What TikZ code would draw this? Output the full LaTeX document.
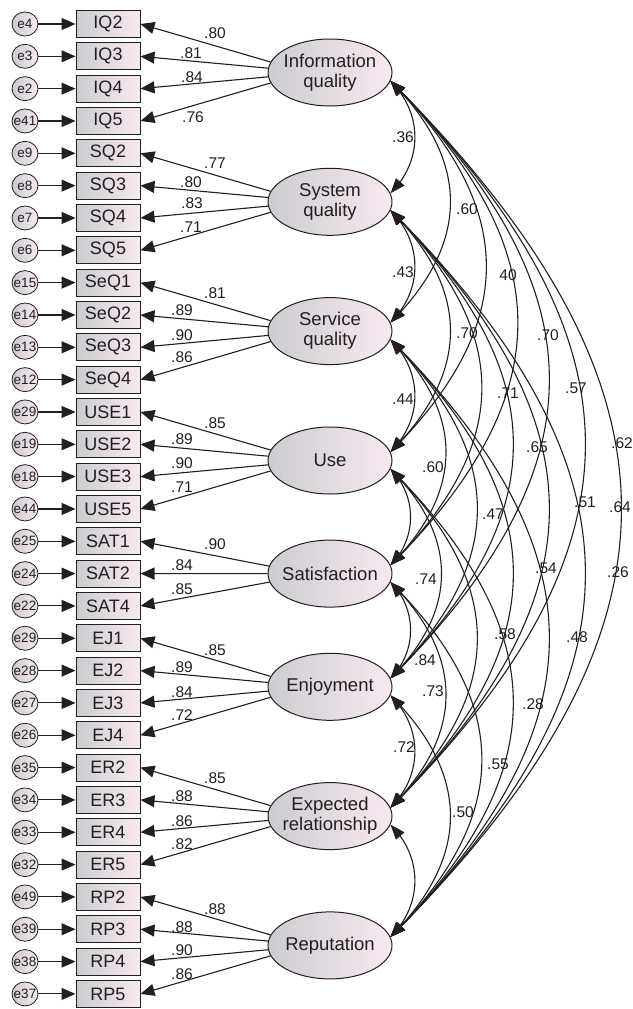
\documentclass[tikz,border=0pt]{standalone}
\usepackage{fontspec}
\setmainfont{Liberation Sans}
\usetikzlibrary{arrows.meta,bending,shapes.geometric}
\definecolor{shL}{RGB}{204,204,208}
\definecolor{shR}{RGB}{249,233,241}
\definecolor{ink}{RGB}{35,31,32}
\begin{document}
\begin{tikzpicture}[x=1pt,y=-1pt,
  errc/.style={ellipse, draw=ink, line width=0.8pt, left color=shL, right color=shR, minimum width=26pt, minimum height=24pt, inner sep=0pt},
  elab/.style={font=\fontsize{13.5}{14}\selectfont, text=ink, inner sep=0pt},
  ind/.style={rectangle, draw=ink, line width=1pt, left color=shL, right color=shR, minimum width=64pt, minimum height=27pt, inner sep=0pt, text=ink, font=\fontsize{18}{20}\selectfont},
  lat/.style={ellipse, draw=ink, line width=1pt, left color=shL, right color=shR, minimum width=124pt, minimum height=67pt, inner sep=0pt},
  latlab/.style={align=center, text=ink, inner sep=0pt, font=\fontsize{18.5}{20}\selectfont},
  loadarrow/.style={draw=ink, line width=1.1pt, -{Triangle[length=14pt,width=12pt]}},
  cov/.style={draw=ink, line width=1.1pt, {Triangle[length=15pt,width=11pt]}-{Triangle[length=15pt,width=11pt]}},
  est/.style={font=\fontsize{15.5}{16}\selectfont, text=ink, inner sep=0pt}
]
\fill[white] (0,0) rectangle (632,1009);
\useasboundingbox (0,0) rectangle (632,1009);

% indicators and errors
\foreach \k/\el/\bl in {0/e4/IQ2,1/e3/IQ3,2/e2/IQ4,3/e41/IQ5,
  4/e9/SQ2,5/e8/SQ3,6/e7/SQ4,7/e6/SQ5,
  8/e15/SeQ1,9/e14/SeQ2,10/e13/SeQ3,11/e12/SeQ4,
  12/e29/USE1,13/e19/USE2,14/e18/USE3,15/e44/USE5,
  16/e25/SAT1,17/e24/SAT2,18/e22/SAT4,
  19/e29/EJ1,20/e28/EJ2,21/e27/EJ3,22/e26/EJ4,
  23/e35/ER2,24/e34/ER3,25/e33/ER4,26/e32/ER5,
  27/e49/RP2,28/e39/RP3,29/e38/RP4,30/e37/RP5}{
  \pgfmathsetmacro\yy{24+32.33*\k}
  \node[errc] (e\k) at (25,\yy) {};
  \node[elab] (et\k) at (e\k) {\el};
  \node[ind] (b\k) at (108,\yy) {\bl};
  \draw[loadarrow] (e\k) -- (b\k.west);
}

% latents
\node[lat] (L1) at (330,72.5) {};
\node[latlab] (T1) at (L1) {Information\\quality};
\node[lat] (L2) at (330,201.8) {};
\node[latlab] (T2) at (L2) {System\\quality};
\node[lat] (L3) at (330,331.1) {};
\node[latlab] (T3) at (L3) {Service\\quality};
\node[lat] (L4) at (330,460.5) {};
\node[latlab] (T4) at (L4) {Use};
\node[lat] (L5) at (330,573.6) {};
\node[latlab] (T5) at (L5) {Satisfaction};
\node[lat] (L6) at (330,686.8) {};
\node[latlab] (T6) at (L6) {Enjoyment};
\node[lat] (L7) at (330,816.1) {};
\node[latlab] (T7) at (L7) {Expected\\relationship};
\node[lat] (L8) at (330,945.4) {};
\node[latlab] (T8) at (L8) {Reputation};

% loadings
\foreach \k/\L/\ang/\lab/\lx/\ly in {
  0/1/170/.80/215/33, 1/1/176/.81/191/53, 2/1/184/.84/192/77, 3/1/190/.76/193/117,
  4/2/170/.77/215/163, 5/2/176/.80/191/182, 6/2/184/.83/192/203, 7/2/190/.71/191/227,
  8/3/170/.81/215/293, 9/3/176/.89/182/310, 10/3/184/.90/182/335, 11/3/190/.86/182/357,
  12/4/170/.85/215/423, 13/4/176/.89/182/439, 14/4/184/.90/182/463, 15/4/190/.71/182/487,
  16/5/173/.90/215/544, 17/5/180/.84/182/565, 18/5/188/.85/182/589,
  19/6/170/.85/215/650, 20/6/176/.89/182/667, 21/6/184/.84/182/692, 22/6/190/.72/182/715,
  23/7/170/.85/215/778, 24/7/176/.88/182/796, 25/7/184/.86/182/821, 26/7/190/.82/182/844,
  27/8/170/.88/215/909, 28/8/176/.88/182/927, 29/8/184/.90/182/950, 30/8/190/.86/182/974}{
  \draw[loadarrow] (L\L.\ang) -- (b\k.east);
  \node[est] (l\k) at (\lx,\ly) {\lab};
}

% covariances
\def\ys{{72.5,201.8,331.1,460.5,573.6,686.8,816.1,945.4}}
\foreach \i in {1,...,7}{
  \pgfmathtruncatemacro\ni{\i+1}
  \foreach \j in {\ni,...,8}{
    \pgfmathsetmacro\cc{\ys[\j-1]-\ys[\i-1]}
    \pgfmathsetmacro\lo{(0.28*\cc-8)/(0.2076*\cc)}
    \draw[cov] (L\i.-8) to[bend left=45, looseness=\lo] (L\j.8);
  }
}

% covariance labels
\foreach \n/\lx/\ly/\lab in {
  1/403/137/.36, 2/467/209/.60, 3/508/275/40, 4/548/335/.70, 5/576/388/.57,
  6/622/443/.62, 7/620/507/.64, 8/403/272/.43, 9/467/333/.70, 10/508/393/.71,
  11/537/447/.65, 12/585/502/.51, 13/618/572/.26, 14/403/399/.44, 15/433/467/.60,
  16/493/514/.47, 17/546/568/.54, 18/577/637/.48, 19/426/579/.74, 20/505/634/.58,
  21/533/704/.28, 22/498/764/.55, 23/425/660/.84, 24/433/691/.73, 25/404/747/.72,
  26/463/812/.50}{
  \node[est] (c\n) at (\lx,\ly) {\lab};
}
\end{tikzpicture}
\end{document}
